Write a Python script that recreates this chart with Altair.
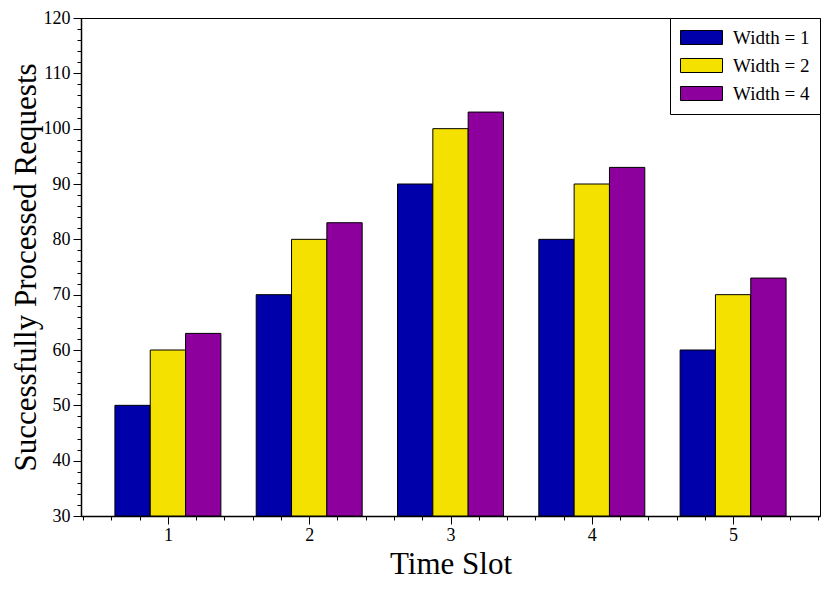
import altair as alt
import pandas as pd

slots = [1, 2, 3, 4, 5]
series_names = ["Width = 1", "Width = 2", "Width = 4"]
width1 = [50, 70, 90, 80, 60]
width2 = [60, 80, 100, 90, 70]
width4 = [63, 83, 103, 93, 73]
colors = ["#0000AA", "#F5E100", "#8E009E"]

x_ticks = [round(0.4 + 0.2 * i, 1) for i in range(27)]
y_ticks = list(range(30, 122, 2))

rows = []
for idx, (name, vals) in enumerate(zip(series_names, [width1, width2, width4])):
    for s, v in zip(slots, vals):
        rows.append({"slot": s, "series": name, "idx": idx, "value": v})
df = pd.DataFrame(rows)

FONT = "Liberation Serif"

chart = (
    alt.Chart(df)
    .transform_calculate(
        xs="datum.slot + (datum.idx - 1) * 0.25 - 0.125",
        xe="datum.slot + (datum.idx - 1) * 0.25 + 0.125",
        base="30",
    )
    .mark_bar(stroke="black", strokeWidth=1)
    .encode(
        x=alt.X(
            "xs:Q",
            title="Time Slot",
            scale=alt.Scale(domain=[0.385, 5.615], nice=False, zero=False),
            axis=alt.Axis(
                values=x_ticks,
                labelExpr="datum.value % 1 === 0 ? format(datum.value, 'd') : ''",
                tickSize={"condition": {"test": "datum.value % 1 === 0", "value": 8}, "value": 4},
                labelOverlap=False,
                labelFlush=False,
                labelPadding=2,
                titlePadding=5,
            ),
        ),
        x2="xe:Q",
        y=alt.Y(
            "value:Q",
            title="Successfully Processed Requests",
            scale=alt.Scale(domain=[30, 120], nice=False, zero=False),
            axis=alt.Axis(
                values=y_ticks,
                labelExpr="datum.value % 10 === 0 ? format(datum.value, 'd') : ''",
                tickSize={"condition": {"test": "datum.value % 10 === 0", "value": 8}, "value": 4},
                labelOverlap=False,
                labelFlush=False,
                labelPadding=3,
                titlePadding=1,
            ),
        ),
        y2="base:Q",
        color=alt.Color(
            "series:N",
            scale=alt.Scale(domain=series_names, range=colors),
            legend=alt.Legend(
                title=None,
                orient="top-right",
                offset=0,
                symbolType="M-3,-1L3,-1L3,1L-3,1Z",
                symbolSize=196,
                symbolStrokeColor="black",
                symbolStrokeWidth=1,
                symbolOpacity=1,
                symbolOffset=12,
                labelOffset=22,
                labelFont=FONT,
                labelFontSize=19,
                labelColor="black",
                rowPadding=8,
                padding=10,
                strokeColor="black",
                fillColor="white",
            ),
        ),
    )
    .properties(
        width=739,
        height=498,
        padding={"left": 73, "top": 10, "right": 2, "bottom": 68},
        autosize=alt.AutoSizeParams(type="none"),
    )
    .configure_view(stroke="black", strokeWidth=1)
    .configure_axis(
        grid=False,
        domainColor="black",
        domainWidth=1.5,
        tickColor="black",
        tickWidth=1,
        labelFont=FONT,
        labelFontSize=18,
        labelColor="black",
        titleFont=FONT,
        titleFontSize=31,
        titleFontWeight="normal",
        titleColor="black",
    )
)

chart.save("out.html", embed_options={"renderer": "svg", "actions": False})
